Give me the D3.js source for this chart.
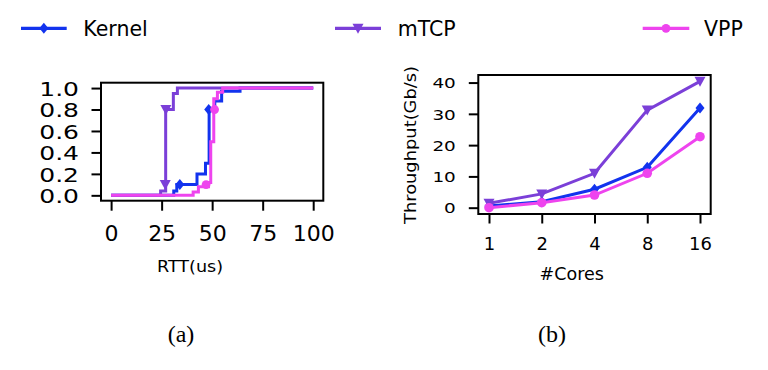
<!DOCTYPE html>
<html>
<head>
<meta charset="utf-8">
<script src="https://cdn.jsdelivr.net/npm/d3@7"></script>
<style>
  html, body { margin: 0; padding: 0; background: #fff; }
  svg { display: block; }
  text { font-family: "DejaVu Sans", sans-serif; fill: #000; }
</style>
</head>
<body>
<svg id="chart" width="768" height="370"></svg>
<script>
// ---------- DATA ----------
const seriesNames = ["Kernel", "mTCP", "VPP"];
const seriesColors = ["#1233ee", "#7b3fd8", "#ee44ee"];

// (a) CDF of RTT (step vertices)
const rttKernelX = [0, 31, 31, 32.5, 32.5, 42.5, 42.5, 46.7, 46.7, 48.5, 48.5, 51.3, 51.3, 54.7, 54.7, 63.8, 63.8, 100];
const rttKernelY = [0, 0, 0.04, 0.04, 0.1, 0.1, 0.2, 0.2, 0.3, 0.3, 0.8, 0.8, 0.88, 0.88, 0.97, 0.97, 1.0, 1.0];
const rttMtcpX = [0, 24.5, 24.5, 27, 27, 30.8, 30.8, 32.8, 32.8, 100];
const rttMtcpY = [0, 0, 0.04, 0.04, 0.8, 0.8, 0.95, 0.95, 1.0, 1.0];
const rttVppX = [0, 40.6, 40.6, 43.2, 43.2, 48.2, 48.2, 49.3, 49.3, 50.8, 50.8, 52.6, 52.6, 55.2, 55.2, 100];
const rttVppY = [0, 0, 0.03, 0.03, 0.08, 0.08, 0.12, 0.12, 0.5, 0.5, 0.9, 0.9, 0.96, 0.96, 1.0, 1.0];
// markers on the CDF curves
const rttKernelMarkX = [34, 48.3];
const rttKernelMarkY = [0.1, 0.8];
const rttMtcpMarkX = [26.8, 27.1];
const rttMtcpMarkY = [0.1, 0.8];
const rttVppMarkX = [47, 51.2];
const rttVppMarkY = [0.1, 0.8];
const rttXTicks = [0, 25, 50, 75, 100];
const rttYTicks = [0.0, 0.2, 0.4, 0.6, 0.8, 1.0];

// (b) Throughput vs cores
const cores = ["1", "2", "4", "8", "16"];
const tputKernel = [0.5, 1.9, 5.9, 12.9, 31.9];
const tputMtcp = [1.4, 4.4, 11.0, 31.2, 40.4];
const tputVpp = [0.0, 1.6, 4.05, 11.0, 22.7];
const tputYTicks = [0, 10, 20, 30, 40];

// ---------- DRAW ----------
const svg = d3.select("#chart");
svg.append("rect").attr("width", 768).attr("height", 370).attr("fill", "#fff");

function markerPath(kind) {
  if (kind === "d") return "M0,-5.5L4.5,0L0,5.5L-4.5,0Z";
  if (kind === "v") return "M-5.5,-4.5L5.5,-4.5L0,5.5Z";
  return null;
}
const markerKinds = ["d", "v", "o"];

function drawMarker(g, kind, x, y, color, r) {
  if (kind === "o") {
    g.append("circle").attr("cx", x).attr("cy", y).attr("r", r || 4.4).attr("fill", color);
  } else {
    g.append("path").attr("d", markerPath(kind))
      .attr("transform", `translate(${x},${y})`).attr("fill", color);
  }
}

// ---------- Panel (a) ----------
const A = { left: 101, right: 323.3, top: 82.7, bottom: 200.7 };
const ax = d3.scaleLinear().domain([-5, 105]).range([A.left, A.right]);
const ay = d3.scaleLinear().domain([-0.05, 1.05]).range([A.bottom, A.top]);

const gA = svg.append("g");
const lineA = d3.line().x(d => ax(d[0])).y(d => ay(d[1]));
const rttSeries = [
  [rttKernelX, rttKernelY, rttKernelMarkX, rttKernelMarkY],
  [rttMtcpX, rttMtcpY, rttMtcpMarkX, rttMtcpMarkY],
  [rttVppX, rttVppY, rttVppMarkX, rttVppMarkY]
];
rttSeries.forEach((s, i) => {
  const pts = s[0].map((x, j) => [x, s[1][j]]);
  gA.append("path").attr("d", lineA(pts)).attr("fill", "none")
    .attr("stroke", seriesColors[i]).attr("stroke-width", 3)
    .attr("stroke-linejoin", "miter");
  s[2].forEach((x, j) => drawMarker(gA, markerKinds[i], ax(x), ay(s[3][j]), seriesColors[i]));
});

// axes (a)
const axA = gA.append("g").attr("transform", `translate(0,${A.bottom})`)
  .call(d3.axisBottom(ax).tickValues(rttXTicks).tickSize(10).tickFormat(d3.format("d")));
axA.select(".domain").remove();
axA.selectAll(".tick line").attr("stroke", "#000").attr("stroke-width", 2);
axA.selectAll(".tick text").attr("y", 40.3).attr("dy", null)
  .style("font-size", "22px").style("font-family", "DejaVu Sans");

const ayA = gA.append("g").attr("transform", `translate(${A.left},0)`)
  .call(d3.axisLeft(ay).tickValues(rttYTicks).tickSize(9.5).tickFormat(d3.format(".1f")));
ayA.select(".domain").remove();
ayA.selectAll(".tick line").attr("stroke", "#000").attr("stroke-width", 2);
ayA.selectAll(".tick text").attr("x", null).attr("dy", null)
  .attr("transform", `translate(-22,7.3) scale(1.25,1)`)
  .style("font-size", "20px").style("font-family", "DejaVu Sans");

gA.append("rect").attr("x", A.left).attr("y", A.top)
  .attr("width", A.right - A.left).attr("height", A.bottom - A.top)
  .attr("fill", "none").attr("stroke", "#000").attr("stroke-width", 2);

gA.append("text").attr("x", 190).attr("y", 271.7).attr("text-anchor", "middle")
  .style("font-size", "16px").attr("textLength", 66).attr("lengthAdjust", "spacingAndGlyphs")
  .text("RTT(us)");

// ---------- Panel (b) ----------
const B = { left: 478.3, right: 710.7, top: 75, bottom: 214 };
const bx = d3.scalePoint().domain(cores).range([489, 700]);
const allT = tputKernel.concat(tputMtcp, tputVpp);
const tmin = d3.min(allT), tmax = d3.max(allT), pad = (tmax - tmin) * 0.05;
const by = d3.scaleLinear().domain([tmin - pad, tmax + pad]).range([B.bottom, B.top]);

const gB = svg.append("g");
const lineB = d3.line().x((d, j) => bx(cores[j])).y(d => by(d));
[tputKernel, tputMtcp, tputVpp].forEach((vals, i) => {
  gB.append("path").attr("d", lineB(vals)).attr("fill", "none")
    .attr("stroke", seriesColors[i]).attr("stroke-width", 3);
  vals.forEach((v, j) => drawMarker(gB, markerKinds[i], bx(cores[j]), by(v), seriesColors[i], 4.8));
});

const axB = gB.append("g").attr("transform", `translate(0,${B.bottom})`)
  .call(d3.axisBottom(bx).tickSize(9.5));
axB.select(".domain").remove();
axB.selectAll(".tick line").attr("stroke", "#000").attr("stroke-width", 2);
axB.selectAll(".tick text").attr("y", 36).attr("dy", null)
  .style("font-size", "18px").style("font-family", "DejaVu Sans");

const ayB = gB.append("g").attr("transform", `translate(${B.left},0)`)
  .call(d3.axisLeft(by).tickValues(tputYTicks).tickSize(9.5).tickFormat(d3.format("d")));
ayB.select(".domain").remove();
ayB.selectAll(".tick line").attr("stroke", "#000").attr("stroke-width", 2);
ayB.selectAll(".tick text").attr("x", null).attr("dy", null)
  .attr("transform", `translate(-22.5,5.3) scale(1.27,1)`)
  .style("font-size", "14.5px").style("font-family", "DejaVu Sans");

gB.append("rect").attr("x", B.left).attr("y", B.top)
  .attr("width", B.right - B.left).attr("height", B.bottom - B.top)
  .attr("fill", "none").attr("stroke", "#000").attr("stroke-width", 2);

gB.append("text").attr("x", 571.7).attr("y", 280).attr("text-anchor", "middle")
  .style("font-size", "17.5px").text("#Cores");

gB.append("text").attr("transform", "translate(415.5,145) rotate(-90)")
  .attr("text-anchor", "middle").style("font-size", "16px")
  .attr("textLength", 158).attr("lengthAdjust", "spacingAndGlyphs")
  .text("Throughput(Gb/s)");

// ---------- Legend ----------
const legend = svg.append("g");
const legLines = [[21, 66.7], [335, 381], [642.7, 689.3]];
const legText = [83.3, 397.7, 704];
seriesNames.forEach((name, i) => {
  const [x0, x1] = legLines[i];
  legend.append("line").attr("x1", x0).attr("x2", x1).attr("y1", 28.3).attr("y2", 28.3)
    .attr("stroke", seriesColors[i]).attr("stroke-width", 3.3);
  drawMarker(legend, markerKinds[i], (x0 + x1) / 2, 28.3, seriesColors[i]);
  legend.append("text").attr("x", legText[i]).attr("y", 35.7)
    .style("font-size", "20.5px").text(name);
});

// ---------- Captions ----------
svg.append("text").attr("x", 181).attr("y", 341.5).attr("text-anchor", "middle")
  .style("font-family", "'Liberation Serif', serif").style("font-size", "24px").text("(a)");
svg.append("text").attr("x", 552).attr("y", 341.5).attr("text-anchor", "middle")
  .style("font-family", "'Liberation Serif', serif").style("font-size", "24px").text("(b)");
</script>
</body>
</html>
